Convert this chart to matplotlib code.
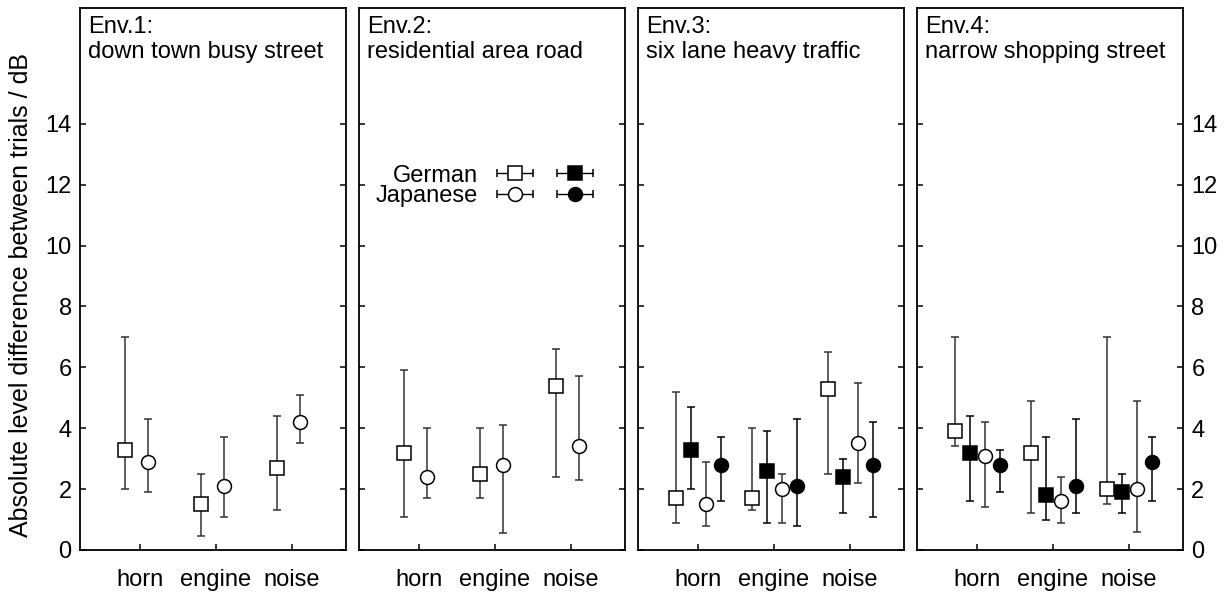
import matplotlib
matplotlib.use("Agg")
import matplotlib.pyplot as plt
import numpy as np
from matplotlib.container import ErrorbarContainer
from matplotlib.legend_handler import HandlerErrorbar, HandlerTuple

plt.rcParams["font.family"] = ["Liberation Sans", "DejaVu Sans"]

CATEGORIES = ["horn", "engine", "noise"]
ENV_TITLES = ["Env.1:\ndown town busy street", "Env.2:\nresidential area road",
              "Env.3:\nsix lane heavy traffic", "Env.4:\nnarrow shopping street"]

# per environment: [horn, engine, noise]; None = condition not measured
GER_OPEN_MEAN = [[3.3, 1.5, 2.7], [3.2, 2.5, 5.4], [1.7, 1.7, 5.3], [3.9, 3.2, 2.0]]
GER_OPEN_LO = [[2.0, 0.45, 1.3], [1.1, 1.7, 2.4], [0.9, 1.3, 2.5], [3.4, 1.2, 1.5]]
GER_OPEN_HI = [[7.0, 2.5, 4.4], [5.9, 4.0, 6.6], [5.2, 4.0, 6.5], [7.0, 4.9, 7.0]]

GER_FILL_MEAN = [None, None, [3.3, 2.6, 2.4], [3.2, 1.8, 1.9]]
GER_FILL_LO = [None, None, [2.0, 0.9, 1.2], [1.6, 1.0, 1.2]]
GER_FILL_HI = [None, None, [4.7, 3.9, 3.0], [4.4, 3.7, 2.5]]

JAP_OPEN_MEAN = [[2.9, 2.1, 4.2], [2.4, 2.8, 3.4], [1.5, 2.0, 3.5], [3.1, 1.6, 2.0]]
JAP_OPEN_LO = [[1.9, 1.1, 3.5], [1.7, 0.55, 2.3], [0.8, 0.9, 2.2], [1.4, 0.9, 0.6]]
JAP_OPEN_HI = [[4.3, 3.7, 5.1], [4.0, 4.1, 5.7], [2.9, 2.5, 5.5], [4.2, 2.4, 4.9]]

JAP_FILL_MEAN = [None, None, [2.8, 2.1, 2.8], [2.8, 2.1, 2.9]]
JAP_FILL_LO = [None, None, [1.6, 0.8, 1.1], [1.9, 1.2, 1.6]]
JAP_FILL_HI = [None, None, [3.7, 4.3, 4.2], [3.3, 4.3, 3.7]]

Y_TICKS = [0, 2, 4, 6, 8, 10, 12, 14]

FS = 17
W, H = 1228, 594
LEFTS = [80, 359, 638, 917]
AX_W, AX_TOP, AX_BOT = 266, 8, 550

# (mean, lo, hi, marker, filled, x-offset for 2-series and 4-series panels)
SERIES = [
    (GER_OPEN_MEAN, GER_OPEN_LO, GER_OPEN_HI, "s", False, -0.2, -0.29),
    (GER_FILL_MEAN, GER_FILL_LO, GER_FILL_HI, "s", True, None, -0.09),
    (JAP_OPEN_MEAN, JAP_OPEN_LO, JAP_OPEN_HI, "o", False, 0.1, 0.1),
    (JAP_FILL_MEAN, JAP_FILL_LO, JAP_FILL_HI, "o", True, None, 0.3),
]


def draw(ax, mean, lo, hi, x, marker, filled, **kw):
    mean, lo, hi = map(np.asarray, (mean, lo, hi))
    col = "black" if filled else "#333333"
    return ax.errorbar(x, mean, yerr=[mean - lo, hi - mean], fmt=marker, ms=10,
                       mfc="black" if filled else "white", mec="black", mew=1.1,
                       ecolor=col, elinewidth=1.1, capsize=2.6, capthick=1.1, zorder=3, **kw)


fig = plt.figure(figsize=(W / 100, H / 100), dpi=100)
axes = []
for i, left in enumerate(LEFTS):
    ax = fig.add_axes([left / W, 1 - AX_BOT / H, AX_W / W, (AX_BOT - AX_TOP) / H])
    axes.append(ax)
    x = np.arange(1, len(CATEGORIES) + 1)
    four = GER_FILL_MEAN[i] is not None
    for mean, lo, hi, marker, filled, off2, off4 in SERIES:
        if mean[i] is None:
            continue
        draw(ax, mean[i], lo[i], hi[i], x + (off4 if four else off2), marker, filled)

    ax.set_xlim(1 - 60 / 76, 1 + (AX_W - 60) / 76)
    ax.set_ylim(0, 17.8)
    ax.set_xticks(x)
    ax.set_xticklabels(CATEGORIES, fontsize=FS)
    ax.set_yticks(Y_TICKS)
    ax.tick_params(axis="x", direction="in", length=4, width=1.1, pad=14, top=False)
    ax.tick_params(axis="y", direction="in", length=4, width=1.1, pad=6, left=True, right=True,
                   labelleft=(i == 0), labelright=(i == 3), labelsize=FS)
    for sp in ax.spines.values():
        sp.set_linewidth(1.3)
    ax.text(0.03, 0.985, ENV_TITLES[i], transform=ax.transAxes, ha="left", va="top",
            fontsize=FS, linespacing=1.15)

# legend in Env.2: open and filled symbols side by side
ax = axes[1]
h = {}
for key, marker, filled in [("go", "s", False), ("gf", "s", True), ("jo", "o", False), ("jf", "o", True)]:
    h[key] = ax.errorbar([np.nan], [np.nan], xerr=[1], fmt=marker, ms=10,
                         mfc="black" if filled else "white", mec="black", mew=1.1,
                         ecolor="black", elinewidth=1.0, capsize=2.6, capthick=1.0)
ax.legend([(h["go"], h["gf"]), (h["jo"], h["jf"])], ["German", "Japanese"],
          handler_map={tuple: HandlerTuple(ndivide=None, pad=0.8),
                       ErrorbarContainer: HandlerErrorbar(xerr_size=0.75)},
          loc="center right", bbox_to_anchor=(0.89, 0.672), frameon=False, fontsize=FS,
          markerfirst=False, handlelength=4.3, handletextpad=0.7, labelspacing=-0.08,
          borderpad=0, borderaxespad=0)

fig.text(21 / W, 1 - 295 / H, "Absolute level difference between trials / dB", rotation=90,
         ha="center", va="center", fontsize=FS + 1)

fig.savefig("out.png", dpi=100, facecolor="white")
